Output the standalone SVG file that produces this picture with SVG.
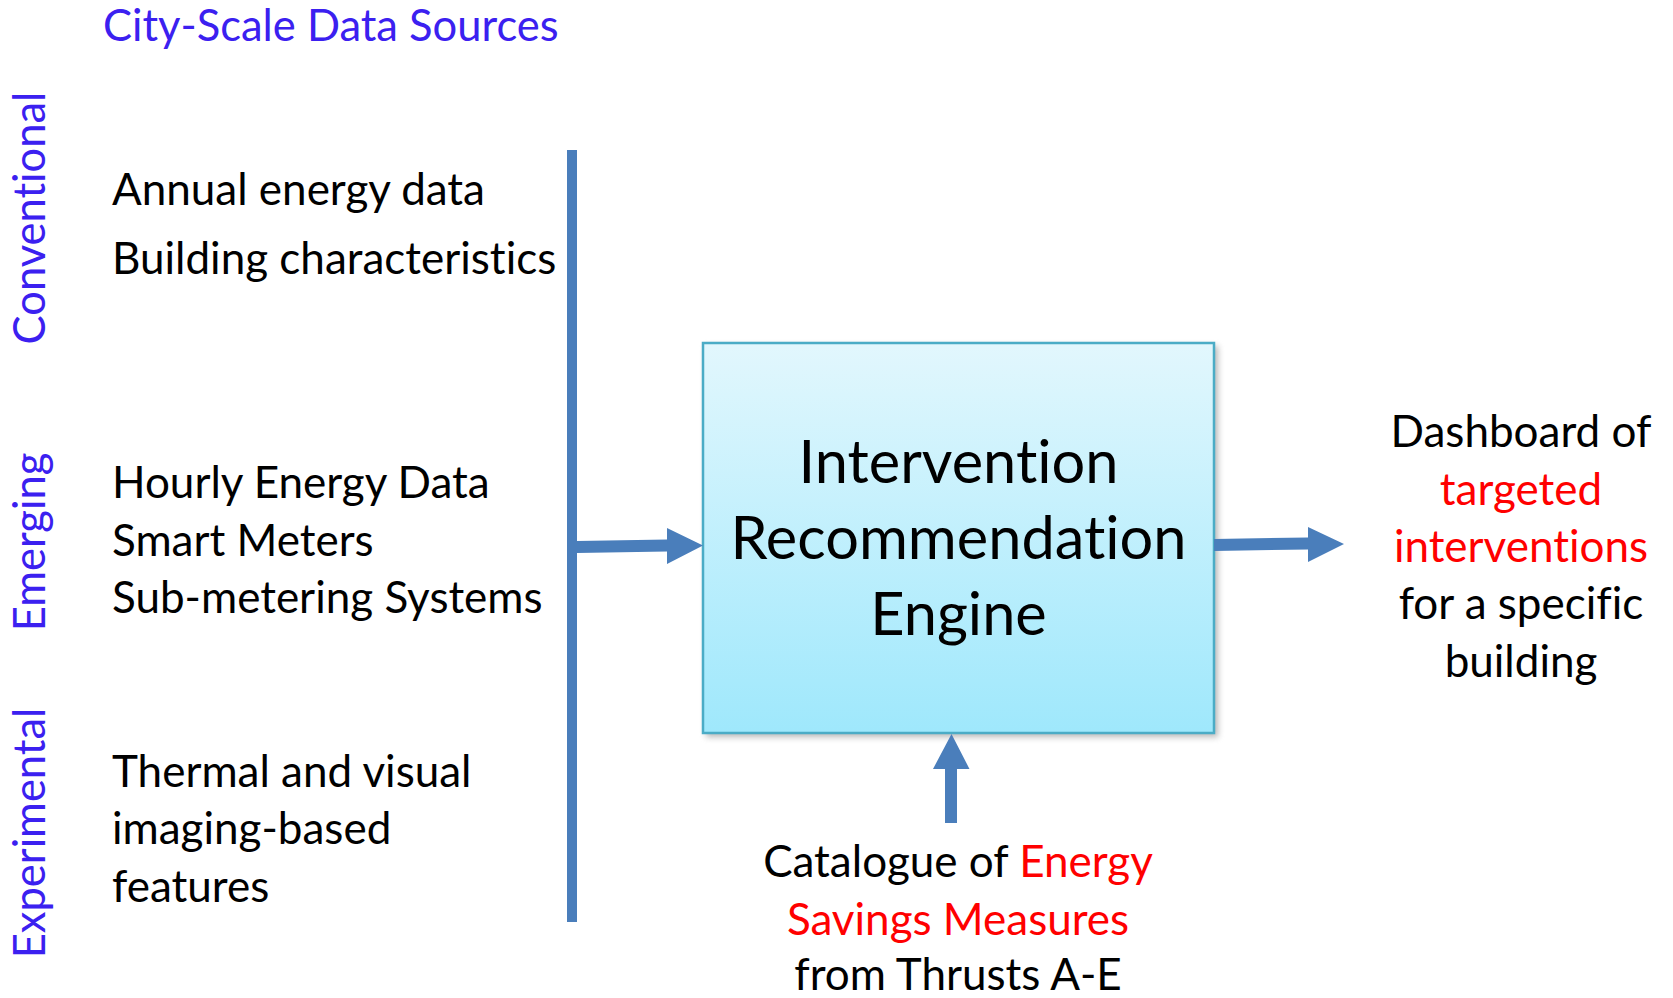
<svg xmlns="http://www.w3.org/2000/svg" width="1673" height="998" viewBox="0 0 1673 998">
  <style>
    text { font-family: Lato, "Open Sans", "Liberation Sans", sans-serif; font-variant-ligatures: none; }
    .head { fill: #3b20f0; font-size: 43.5px; }
    .item { fill: #000000; font-size: 44px; }
    .big { fill: #000000; font-size: 59.5px; }
    .out { fill: #000000; font-size: 44px; text-anchor: middle; }
    .red { fill: #ff0000; }
    .conn { fill: #4a7ebb; }
  </style>
  <defs>
    <linearGradient id="engineFill" x1="0" y1="0" x2="0" y2="1">
      <stop offset="0" stop-color="#e2f7fd"/>
      <stop offset="1" stop-color="#9fe8fc"/>
    </linearGradient>
    <filter id="shadow" x="-10%" y="-10%" width="120%" height="120%">
      <feGaussianBlur stdDeviation="3"/>
    </filter>
  </defs>

  <rect width="1673" height="998" fill="#ffffff"/>

  <!-- Section headings -->
  <g id="heading">
    <text class="head" x="103" y="41">City-Scale Data Sources</text>
  </g>
  <g id="label-conventional">
    <text class="head" text-anchor="middle" transform="translate(45,218) rotate(-90)">Conventional</text>
  </g>
  <g id="label-emerging">
    <text class="head" text-anchor="middle" transform="translate(45,542) rotate(-90)">Emerging</text>
  </g>
  <g id="label-experimental">
    <text class="head" text-anchor="middle" transform="translate(45,833) rotate(-90)">Experimental</text>
  </g>

  <!-- Data source lists -->
  <g id="sources-conventional">
    <text class="item" x="112" y="205">Annual energy data</text>
    <text class="item" x="112" y="274">Building characteristics</text>
  </g>
  <g id="sources-emerging">
    <text class="item" x="112" y="498">Hourly Energy Data</text>
    <text class="item" x="112" y="556">Smart Meters</text>
    <text class="item" x="112" y="613">Sub-metering Systems</text>
  </g>
  <g id="sources-experimental">
    <text class="item" x="112" y="787">Thermal and visual</text>
    <text class="item" x="112" y="844">imaging-based</text>
    <text class="item" x="112" y="902">features</text>
  </g>

  <!-- Central engine -->
  <g id="engine">
    <rect x="706" y="346" width="512" height="391" fill="#7f7f7f" opacity="0.55" filter="url(#shadow)"/>
    <rect x="703" y="343" width="511" height="390" fill="url(#engineFill)" stroke="#4bacc6" stroke-width="2.5"/>
    <text class="big" text-anchor="middle" x="958.5" y="483">Intervention</text>
    <text class="big" text-anchor="middle" x="958.5" y="559">Recommendation</text>
    <text class="big" text-anchor="middle" x="958.5" y="635">Engine</text>
  </g>

  <!-- Output -->
  <g id="dashboard">
    <text class="out" x="1521" y="447">Dashboard of</text>
    <text class="out red" x="1521" y="505">targeted</text>
    <text class="out red" x="1521" y="562">interventions</text>
    <text class="out" x="1521" y="619">for a specific</text>
    <text class="out" x="1521" y="677">building</text>
  </g>

  <!-- Measures catalogue -->
  <g id="catalogue">
    <text class="out" x="958" y="877">Catalogue of <tspan class="red">Energy</tspan></text>
    <text class="out red" x="958" y="935">Savings Measures</text>
    <text class="out" x="958" y="990">from Thrusts A-E</text>
  </g>

  <!-- Connectors -->
  <g id="connectors">
    <!-- collecting bar -->
    <rect class="conn" x="567" y="150" width="10" height="772"/>
    <!-- bar to engine -->
    <polygon class="conn" points="577,541 667,539.5 667,528 703,545.5 667,564 667,551.5 577,553"/>
    <!-- engine to dashboard -->
    <polygon class="conn" points="1214,539 1308,537.5 1308,527 1344,544 1308,562 1308,549.5 1214,551"/>
    <!-- catalogue to engine -->
    <polygon class="conn" points="945,823 945,769 933,769 951.5,734 969.5,769 957,769 957,823"/>
  </g>
</svg>
